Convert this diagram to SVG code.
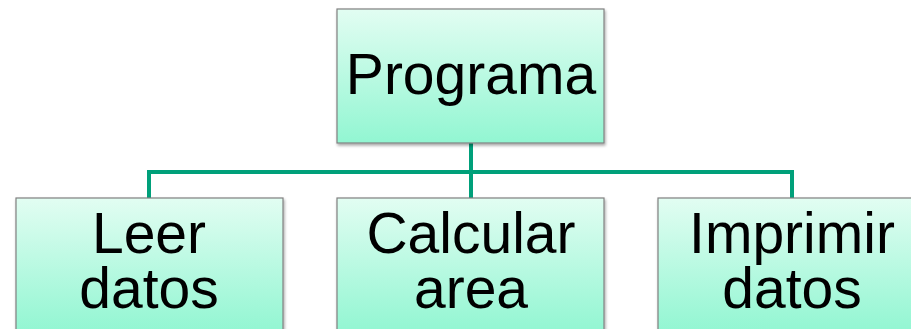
<svg xmlns="http://www.w3.org/2000/svg" width="911" height="329" viewBox="0 0 911 329">
<defs>
<linearGradient id="g" x1="0" y1="0" x2="0" y2="1">
<stop offset="0" stop-color="#e2fdf2"/>
<stop offset="1" stop-color="#92f6d2"/>
</linearGradient>
<filter id="sh" x="-5%" y="-5%" width="112%" height="115%">
<feGaussianBlur in="SourceAlpha" stdDeviation="1.5"/>
<feOffset dx="1" dy="2" result="b"/>
<feComponentTransfer><feFuncA type="linear" slope="0.35"/></feComponentTransfer>
<feMerge><feMergeNode/><feMergeNode in="SourceGraphic"/></feMerge>
</filter>
</defs>
<style>
.box{fill:url(#g);stroke:#808080;stroke-width:1.2;filter:url(#sh)}
.t{font-family:"Liberation Sans",Arial,sans-serif;font-size:57px;fill:#000;text-anchor:middle}
.c{fill:none;stroke:#00a07a;stroke-width:4}
</style>
<rect width="911" height="329" fill="#fff"/>
<g id="connectors">
<path class="c" d="M471,143 V198"/>
<path class="c" d="M149,198 V172 H792 V198"/>
</g>
<g id="programa">
<rect class="box" x="337" y="9" width="267" height="134"/>
<text class="t" x="471" y="94">Programa</text>
</g>
<g id="leer">
<rect class="box" x="16" y="198" width="267" height="134"/>
<text class="t" x="149" y="253">Leer<tspan x="149" dy="55">datos</tspan></text>
</g>
<g id="calcular">
<rect class="box" x="337" y="198" width="267" height="134"/>
<text class="t" x="471" y="253">Calcular<tspan x="471" dy="55">area</tspan></text>
</g>
<g id="imprimir">
<rect class="box" x="658" y="198" width="267" height="134"/>
<text class="t" x="792" y="253">Imprimir<tspan x="792" dy="55">datos</tspan></text>
</g>
</svg>
